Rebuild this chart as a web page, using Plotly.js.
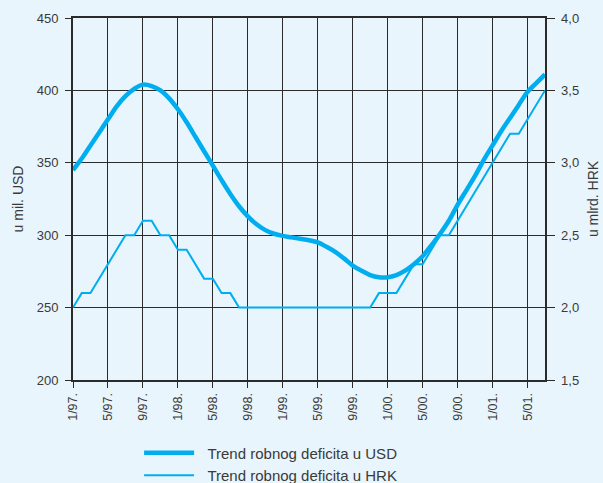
<!DOCTYPE html>
<html>
<head>
<meta charset="utf-8">
<script src="https://cdn.plot.ly/plotly-3.0.1.min.js"></script>
<style>html,body{margin:0;padding:0;background:#e8f5fc;}</style>
</head>
<body>
<div id="chart" style="width:603px;height:483px;"></div>
<script>
// Months from 1/97 to 7/01 (category labels)
var months = [];
for (var yr = 97; yr <= 101; yr++) {
  for (var m = 1; m <= 12; m++) {
    var yy = String(yr % 100).padStart(2, '0');
    months.push(m + '/' + yy + '.');
    if (yr === 101 && m === 7) break;
  }
}

// Trend of goods deficit, USD million (left axis)
var usdTrend = [345, 353, 362, 371, 380, 389, 396, 401, 404, 403, 400, 394.5,
  387, 378, 368, 358, 348, 338, 328.5, 320, 313, 307.5, 303.5, 301,
  299.5, 298.5, 297.5, 296.5, 295, 292, 288.5, 284, 279, 275.5, 272.5, 271,
  271, 272.5, 275.5, 280, 285.5, 293, 301, 310, 321, 331, 341, 352,
  362, 372, 381, 390, 399, 405, 411];

// Trend of goods deficit, HRK billion (right axis)
var hrkTrend = [2.0, 2.1, 2.1, 2.2, 2.3, 2.4, 2.5, 2.5, 2.6, 2.6, 2.5, 2.5,
  2.4, 2.4, 2.3, 2.2, 2.2, 2.1, 2.1, 2.0, 2.0, 2.0, 2.0, 2.0,
  2.0, 2.0, 2.0, 2.0, 2.0, 2.0, 2.0, 2.0, 2.0, 2.0, 2.0, 2.1,
  2.1, 2.1, 2.2, 2.3, 2.3, 2.4, 2.5, 2.5, 2.6, 2.7, 2.8, 2.9,
  3.0, 3.1, 3.2, 3.2, 3.3, 3.4, 3.5];

var tickLabels = ['1/97.', '5/97.', '9/97.', '1/98.', '5/98.', '9/98.', '1/99.',
  '5/99.', '9/99.', '1/00.', '5/00.', '9/00.', '1/01.', '5/01.'];

var leftTicks = [200, 250, 300, 350, 400, 450];
var rightTicks = [1.5, 2.0, 2.5, 3.0, 3.5, 4.0];

var blue = '#00aeef';
var dark = '#2b2b2b';
var textCol = '#3a3a3a';

var traces = [
  {
    x: months, y: usdTrend, type: 'scatter', mode: 'lines',
    name: '\u00a0\u00a0Trend robnog deficita u USD',
    line: {color: blue, width: 4.5, shape: 'spline', smoothing: 1},
    yaxis: 'y'
  },
  {
    x: months, y: hrkTrend, type: 'scatter', mode: 'lines',
    name: '\u00a0\u00a0Trend robnog deficita u HRK',
    line: {color: blue, width: 2},
    yaxis: 'y2'
  }
];

var layout = {
  width: 603, height: 483,
  margin: {l: 73, r: 58, t: 18, b: 103, autoexpand: false},
  paper_bgcolor: '#e8f5fc',
  plot_bgcolor: '#e8f5fc',
  separators: ',.',
  font: {family: 'Liberation Sans, Arial, sans-serif', size: 12, color: textCol},
  showlegend: true,
  legend: {
    x: 0.14, xanchor: 'left', y: -0.156, yanchor: 'top',
    bgcolor: 'rgba(0,0,0,0)',
    font: {size: 15, color: textCol},
    itemwidth: 50,
    traceorder: 'normal'
  },
  xaxis: {
    type: 'category',
    categoryorder: 'array', categoryarray: months,
    range: [0, 54],
    automargin: false,
    tickmode: 'array', tickvals: tickLabels, ticktext: tickLabels,
    tickangle: -90,
    ticks: 'outside', ticklen: 6, tickcolor: dark, tickwidth: 1,
    showgrid: true, gridcolor: dark, gridwidth: 1,
    showline: true, linecolor: dark, linewidth: 2, mirror: true,
    zeroline: false,
    tickfont: {size: 12.5, color: textCol},
    fixedrange: true
  },
  yaxis: {
    range: [200, 450],
    automargin: false,
    tickmode: 'array', tickvals: leftTicks,
    ticks: 'outside', ticklen: 6, tickcolor: dark,
    showgrid: true, gridcolor: dark, gridwidth: 1,
    showline: true, linecolor: dark, linewidth: 2,
    zeroline: false,
    tickfont: {size: 13, color: textCol},
    ticklabelstandoff: 4,
    title: {text: 'u mil. USD', font: {size: 14, color: textCol}, standoff: 10},
    fixedrange: true
  },
  yaxis2: {
    range: [1.5, 4.0],
    overlaying: 'y', side: 'right',
    automargin: false,
    tickmode: 'array', tickvals: rightTicks, tickformat: '.1f',
    ticks: 'outside', ticklen: 8, tickcolor: dark,
    showgrid: false,
    showline: true, linecolor: dark, linewidth: 1.5,
    zeroline: false,
    tickfont: {size: 13, color: textCol},
    ticklabelstandoff: 4,
    title: {text: 'u mlrd. HRK', font: {size: 14, color: textCol}, standoff: 10},
    fixedrange: true
  }
};

Plotly.newPlot('chart', traces, layout, {displayModeBar: false, staticPlot: true});
</script>
</body>
</html>
